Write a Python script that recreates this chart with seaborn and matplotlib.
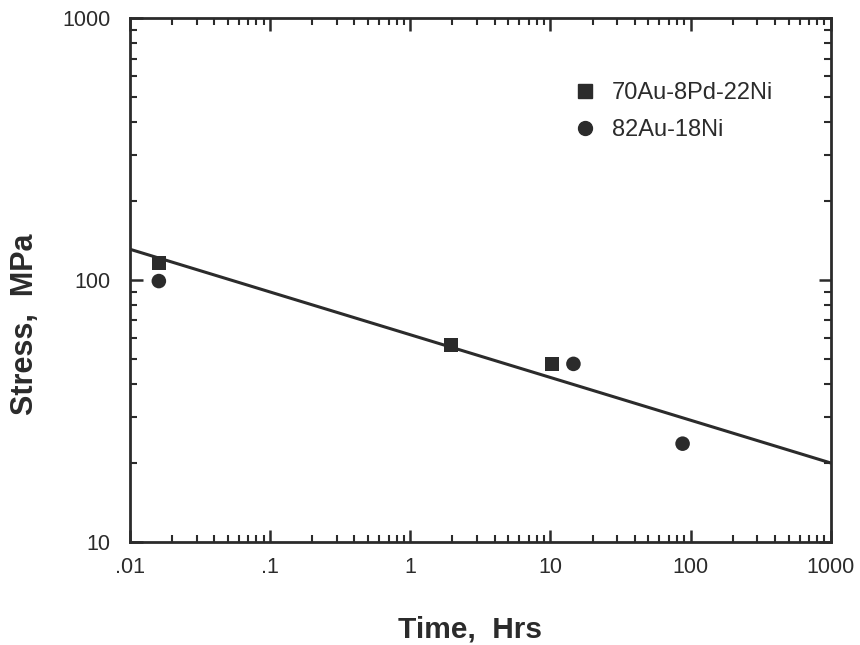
import matplotlib
matplotlib.use("Agg")
import matplotlib.pyplot as plt
import matplotlib.ticker as mticker
from matplotlib.lines import Line2D
import seaborn as sns
import pandas as pd

# Data
alloy_a = "70Au-8Pd-22Ni"
alloy_b = "82Au-18Ni"
a_time = [0.0161, 1.96, 10.3]
a_stress = [116, 56.5, 47.8]
b_time = [0.0161, 14.6, 87.7]
b_stress = [99, 47.8, 23.7]
fit_time = [0.01, 1000]
fit_stress = [131, 20.0]
x_ticks = [0.01, 0.1, 1, 10, 100, 1000]
x_ticklabels = [".01", ".1", "1", "10", "100", "1000"]
y_ticks = [10, 100, 1000]
y_ticklabels = ["10", "100", "1000"]

df = pd.DataFrame({
    "time": a_time + b_time,
    "stress": a_stress + b_stress,
    "alloy": [alloy_a] * len(a_time) + [alloy_b] * len(b_time),
})
fit = pd.DataFrame({"time": fit_time, "stress": fit_stress})

sns.set_theme(style="ticks")
plt.rcParams["font.family"] = ["Liberation Sans", "DejaVu Sans"]
ink = "#2b2b2b"

fig = plt.figure(figsize=(8.6, 6.45), dpi=100)
ax = fig.add_axes([0.151, 0.160, 0.815, 0.812])

sns.lineplot(data=fit, x="time", y="stress", ax=ax, color=ink, lw=2.2, legend=False)
sns.scatterplot(data=df, x="time", y="stress", style="alloy",
                markers={alloy_a: "s", alloy_b: "o"}, color=ink,
                s=110, edgecolor="none", ax=ax, legend=False)

ax.set_xscale("log")
ax.set_yscale("log")
ax.set_xlim(0.01, 1000)
ax.set_ylim(10, 1000)
ax.set_xticks(x_ticks)
ax.set_xticklabels(x_ticklabels)
ax.set_yticks(y_ticks)
ax.set_yticklabels(y_ticklabels)
ax.xaxis.set_minor_locator(mticker.LogLocator(base=10, subs=range(2, 10), numticks=20))
ax.yaxis.set_minor_locator(mticker.LogLocator(base=10, subs=range(2, 10), numticks=20))
ax.xaxis.set_minor_formatter(mticker.NullFormatter())
ax.yaxis.set_minor_formatter(mticker.NullFormatter())

ax.tick_params(which="both", direction="in", top=True, right=True, color=ink,
               labelsize=15.5, labelcolor=ink)
ax.tick_params(which="major", length=9, width=1.8)
ax.tick_params(axis="x", which="major", pad=11)
ax.tick_params(axis="y", which="major", pad=14)
ax.tick_params(which="minor", length=5, width=1.5)
for sp in ax.spines.values():
    sp.set_linewidth(2)
    sp.set_color(ink)

ax.set_xlabel("Time,  Hrs", fontsize=21.5, fontweight="bold", color=ink, va="center")
ax.xaxis.set_label_coords(0.485, -0.168)
ax.set_ylabel("Stress,  MPa", fontsize=22, fontweight="bold", color=ink, va="center")
ax.yaxis.set_label_coords(-0.150, 0.416)

handles = [
    Line2D([], [], marker="s", ls="none", color=ink, markersize=10),
    Line2D([], [], marker="o", ls="none", color=ink, markersize=10),
]
ax.legend(handles, [alloy_a, alloy_b], loc="upper left", bbox_to_anchor=(0.632, 0.877),
          frameon=False, fontsize=17, handlelength=1.0, handletextpad=0.65,
          labelspacing=0.62, borderpad=0, borderaxespad=0, labelcolor=ink)

fig.savefig("out.png", dpi=100)
